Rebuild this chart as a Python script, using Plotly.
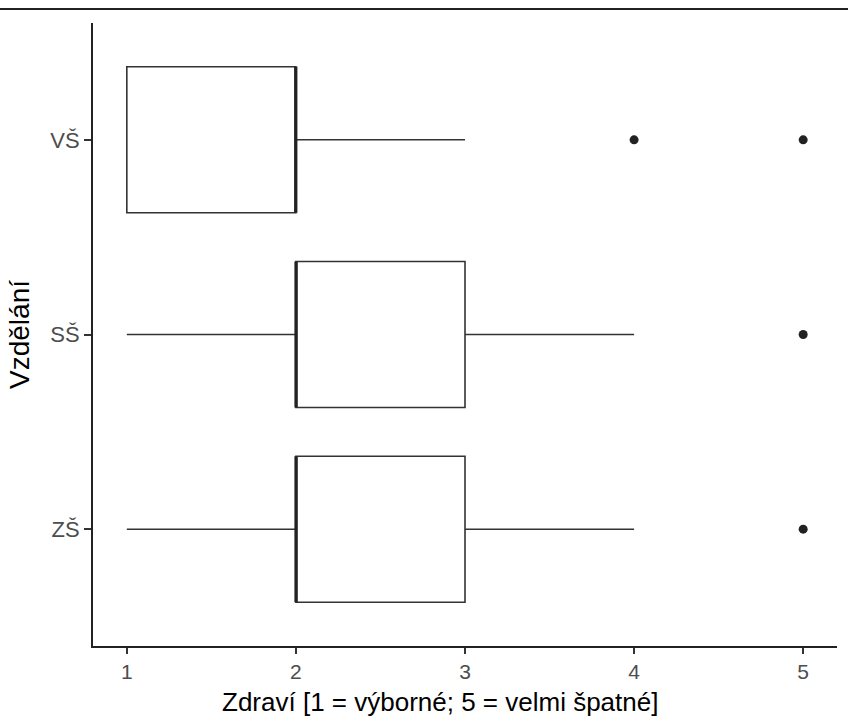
import plotly.graph_objects as go

categories = ["ZŠ", "SŠ", "VŠ"]
q1 = [2, 2, 1]
median = [2, 2, 2]
q3 = [3, 3, 2]
lowerfence = [1, 1, 1]
upperfence = [4, 4, 3]

outlier_cat = ["ZŠ", "SŠ", "VŠ", "VŠ"]
outlier_val = [5, 5, 4, 5]

x_ticks = [1, 2, 3, 4, 5]
x_title = "Zdraví [1 = výborné; 5 = velmi špatné]"
y_title = "Vzdělání"

fig = go.Figure()
fig.add_trace(go.Box(
    y=categories, q1=q1, median=median, q3=q3,
    lowerfence=lowerfence, upperfence=upperfence,
    orientation="h", boxpoints=False, width=0.75, whiskerwidth=0,
    fillcolor="white", line=dict(color="#333333", width=1.6),
    showlegend=False, hoverinfo="skip",
))
# thicker median line (as in ggplot), drawn as a degenerate box at the median
fig.add_trace(go.Box(
    y=categories, q1=median, median=median, q3=median,
    lowerfence=median, upperfence=median,
    orientation="h", boxpoints=False, width=0.75, whiskerwidth=0,
    fillcolor="rgba(0,0,0,0)", line=dict(color="#222222", width=3),
    showlegend=False, hoverinfo="skip",
))
fig.add_trace(go.Scatter(
    x=outlier_val, y=outlier_cat, mode="markers",
    marker=dict(color="#222222", size=9), showlegend=False,
))

fig.update_layout(
    width=848, height=720, boxmode="overlay",
    margin=dict(l=93, r=11, t=23, b=74, autoexpand=False),
    plot_bgcolor="white", paper_bgcolor="white",
    font=dict(family="Liberation Sans, Arial, sans-serif", color="black"),
    shapes=[dict(type="line", xref="paper", yref="paper",
                 x0=-93 / 744, x1=1 + 11 / 744,
                 y0=1.0 + 14 / 623, y1=1.0 + 14 / 623,
                 line=dict(color="#222222", width=2))],
    annotations=[dict(text=x_title, xref="paper", yref="paper",
                      x=(440 - 93) / 744, y=-56 / 623,
                      xanchor="center", yanchor="middle", showarrow=False,
                      font=dict(size=26, color="black"))],
)
fig.update_xaxes(
    range=[0.8, 5.2], tickvals=x_ticks, ticks="outside", ticklen=6,
    tickcolor="#333333", tickwidth=1.5, automargin=False,
    showline=True, linecolor="#222222", linewidth=2, showgrid=False, zeroline=False,
    tickfont=dict(size=21, color="#4D4D4D"),
)
fig.update_yaxes(
    type="category", categoryorder="array", categoryarray=categories,
    range=[-0.6, 2.6], ticks="outside", ticklen=7,
    tickcolor="#333333", tickwidth=1.5, automargin=False,
    showline=True, linecolor="#222222", linewidth=2, showgrid=False, zeroline=False,
    tickfont=dict(size=22, color="#4D4D4D"),
    title=dict(text=y_title, font=dict(size=28, color="black"), standoff=12),
)

fig.write_html(
    "out.html",
    config={"displayModeBar": False},
    post_script="document.body.style.margin='0';document.body.style.overflow='hidden';",
)
